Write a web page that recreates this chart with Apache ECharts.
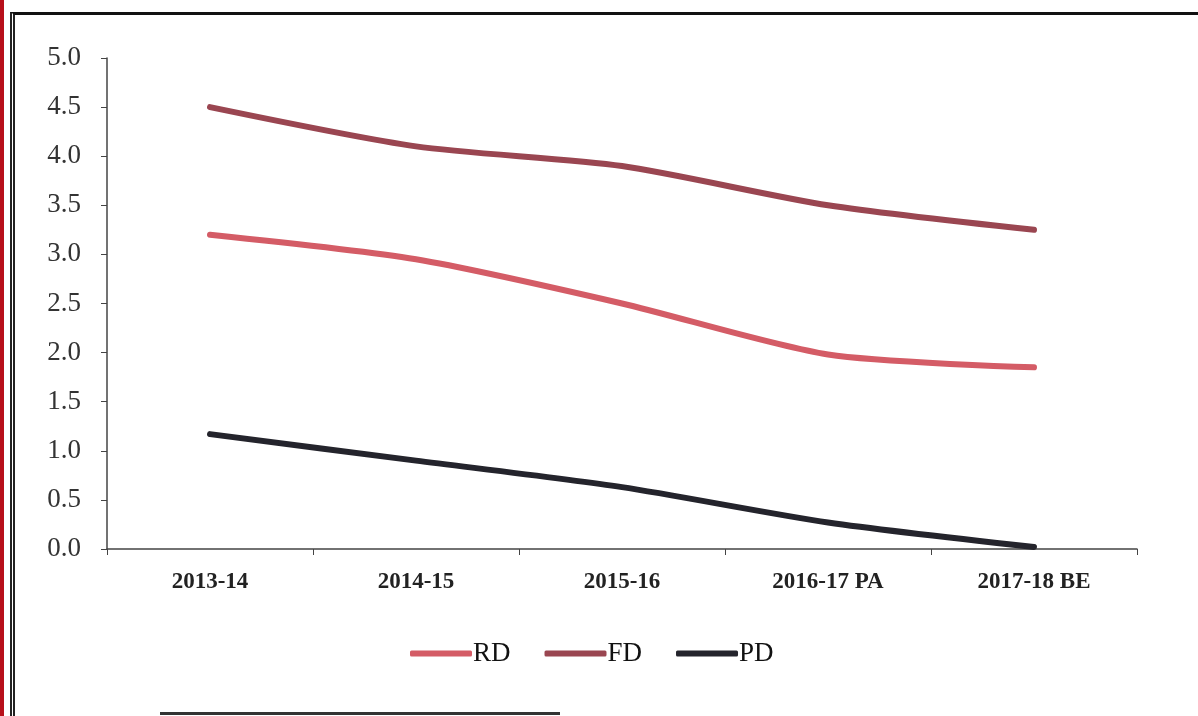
<!DOCTYPE html>
<html>
<head>
<meta charset="utf-8">
<script src="https://cdn.jsdelivr.net/npm/echarts@6/dist/echarts.min.js"></script>
<style>
  html, body { margin: 0; padding: 0; background: #fff; }
  #wrap { position: relative; width: 1198px; height: 716px; overflow: hidden; background: #fff; }
  #redbar { position: absolute; left: 0; top: 0; width: 4px; height: 716px; background: #b8101a; }
  #frame { position: absolute; left: 10px; top: 12px; width: 1200px; height: 720px;
           border-left: 5px double #222; border-top: 3px solid #111; box-sizing: border-box; }
  #bottomline { position: absolute; left: 160px; top: 712px; width: 400px; height: 3px; background: #333; }
  #main { position: absolute; left: 0; top: 0; width: 1198px; height: 716px; }
</style>
</head>
<body>
<div id="wrap">
  <div id="redbar"></div>
  <div id="frame"></div>
  <div id="bottomline"></div>
  <div id="main"></div>
</div>
<script>
  var categories = ['2013-14', '2014-15', '2015-16', '2016-17 PA', '2017-18 BE'];
  var rdValues = [3.2, 2.95, 2.5, 1.98, 1.85];
  var fdValues = [4.5, 4.1, 3.9, 3.5, 3.25];
  var pdValues = [1.17, 0.9, 0.63, 0.27, 0.02];

  var chart = echarts.init(document.getElementById('main'));

  function line(name, data, color) {
    return {
      name: name,
      type: 'line',
      data: data,
      smooth: 0.25,
      symbol: 'none',
      lineStyle: { width: 6, color: color, cap: 'round' },
      itemStyle: { color: color }
    };
  }

  chart.setOption({
    backgroundColor: 'transparent',
    animation: false,
    grid: { left: 107, right: 61, top: 58, bottom: 167 },
    legend: {
      bottom: 44,
      left: 405,
      icon: 'roundRect',
      itemWidth: 62,
      itemHeight: 6,
      itemGap: 34,
      textStyle: { fontFamily: 'Liberation Serif', fontSize: 27, color: '#111', padding: [4, 0, 0, -4] },
      data: ['RD', 'FD', 'PD']
    },
    xAxis: {
      type: 'category',
      data: categories,
      boundaryGap: true,
      axisLine: { lineStyle: { color: '#444', width: 1.5 } },
      axisTick: { show: true, length: 6, lineStyle: { color: '#444' } },
      axisLabel: { margin: 22, fontFamily: 'Liberation Serif', fontWeight: 'bold', fontSize: 23, color: '#222' }
    },
    yAxis: {
      type: 'value',
      min: 0,
      max: 5,
      interval: 0.5,
      axisLine: { show: true, lineStyle: { color: '#444', width: 1.5 } },
      axisTick: { show: true, length: 6, lineStyle: { color: '#444' } },
      splitLine: { show: false },
      axisLabel: {
        margin: 26, fontFamily: 'Liberation Serif', fontSize: 27, color: '#333',
        formatter: function (v) { return v.toFixed(1); }
      }
    },
    series: [
      line('RD', rdValues, '#d45c66'),
      line('FD', fdValues, '#9a4651'),
      line('PD', pdValues, '#24242c')
    ]
  });

  window.addEventListener('resize', function () { chart.resize(); });
</script>
</body>
</html>
